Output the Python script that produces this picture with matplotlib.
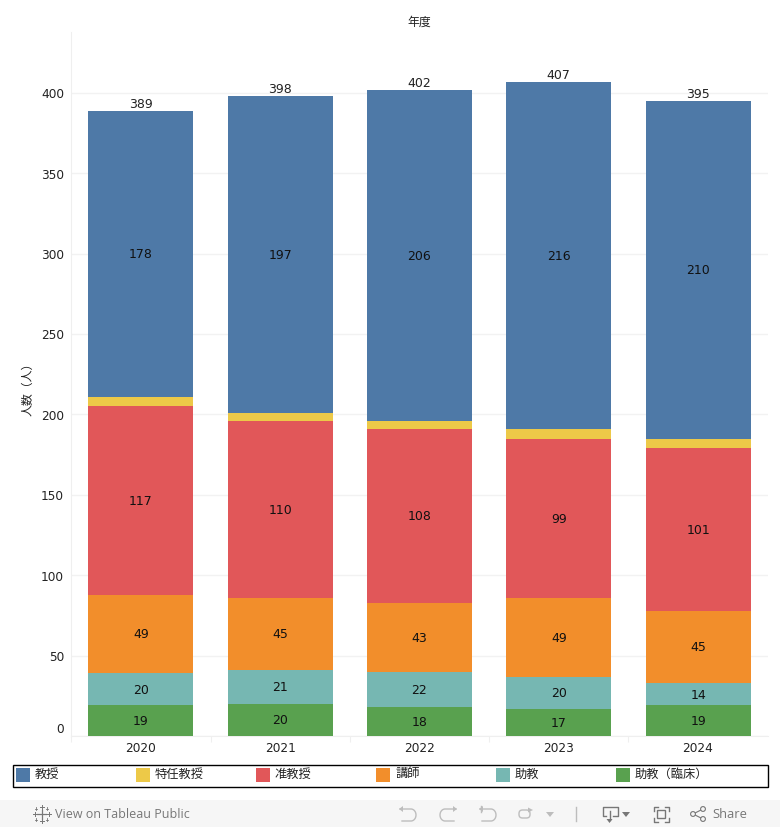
import numpy as np
import matplotlib
matplotlib.use('Agg')
import matplotlib.pyplot as plt
from matplotlib.patches import Rectangle, Circle, Polygon, FancyBboxPatch

plt.rcParams['font.family'] = ['DejaVu Sans', 'Noto Sans CJK JP']

years = ['2020', '2021', '2022', '2023', '2024']
rinsho = [19, 20, 18, 17, 19]
jokyo = [20, 21, 22, 20, 14]
koshi = [49, 45, 43, 49, 45]
junkyoju = [117, 110, 108, 99, 101]
tokunin = [6, 5, 5, 6, 6]
kyoju = [178, 197, 206, 216, 210]
totals = [389, 398, 402, 407, 395]
yticks = [0, 50, 100, 150, 200, 250, 300, 350, 400]

# stacked from the bottom up
series = [rinsho, jokyo, koshi, junkyoju, tokunin, kyoju]
colors = ['#59a14f', '#76b7b2', '#f28e2b', '#e15759', '#edc948', '#4e79a7']
show_label = [True, True, True, True, False, True]

legend_names = ['教授', '特任教授', '准教授', '講師', '助教', '助教（臨床）']
legend_colors = ['#4e79a7', '#edc948', '#e15759', '#f28e2b', '#76b7b2', '#59a14f']

W, H = 780, 827
fig = plt.figure(figsize=(W / 100, H / 100), dpi=100)

# plot area in pixels: x 71.2-767.7, y 32-736
ax = fig.add_axes([71.2 / W, 1 - 736 / H, 696.5 / W, 704 / H])
ax.set_xlim(-0.5, 4.5)
ax.set_ylim(0, 437.9)

bottom = [0] * 5
for vals, col, show in zip(series, colors, show_label):
    ax.bar(range(5), vals, width=0.754, bottom=bottom, color=col, zorder=3)
    if show:
        for i, v in enumerate(vals):
            ax.text(i, bottom[i] + v / 2 - 0.6, str(v), ha='center', va='center',
                    fontsize=9, color='#111111', zorder=4)
    bottom = [b + v for b, v in zip(bottom, vals)]

for i, t in enumerate(totals):
    ax.text(i, t - 0.2, str(t), ha='center', va='bottom', fontsize=9, color='#222222', zorder=4)

for s in ['top', 'right']:
    ax.spines[s].set_visible(False)
for s in ['left', 'bottom']:
    ax.spines[s].set_color('#efefef')
ax.set_yticks(yticks)
ax.set_yticklabels([])
ax.tick_params(axis='y', length=0)
ax.set_xticks([-0.5, 0.5, 1.5, 2.5, 3.5])
ax.set_xticklabels([])
ax.tick_params(axis='x', length=4, color='#efefef')
ax.grid(axis='y', color='#f2f2f2', linewidth=1, zorder=0)

# overlay in pixel coordinates for the labels, legend and toolbar
ov = fig.add_axes([0, 0, 1, 1], zorder=5)
ov.set_xlim(0, W)
ov.set_ylim(H, 0)
ov.axis('off')
ov.patch.set_alpha(0)

# tick labels; the 0 is pushed up inside the axis like in the original
for t in yticks:
    py = 737.8 - t * 1.6075
    if t == 0:
        py = 729.5
    ov.text(64, py, str(t), ha='right', va='center', fontsize=8.7, color='#222222')
for i, y in enumerate(years):
    ov.text(71.2 + 139.3 * (i + 0.5), 749, y, ha='center', va='center', fontsize=8.7, color='#222222')

ov.text(419, 22, '年度', ha='center', va='center', fontsize=8.6, color='#222222')
ov.text(28, 386, '人数（人）', ha='center', va='center', rotation=90, fontsize=8.6, color='#222222')

# legend
ov.add_patch(Rectangle((12.5, 765), 755, 22, fill=False, edgecolor='black', linewidth=1))
for i, (name, col) in enumerate(zip(legend_names, legend_colors)):
    x0 = 16 + i * 120
    ov.add_patch(Rectangle((x0, 768), 14, 14, facecolor=col, edgecolor='none'))
    ov.text(x0 + 19, 774, name, ha='left', va='center', fontsize=8.8, color='#222222')

# toolbar
ov.add_patch(Rectangle((0, 800), W, 27, facecolor='#f6f6f6', edgecolor='none'))
grey = '#777777'
light = '#bdbdbd'
ov.text(55, 814, 'View on Tableau Public', ha='left', va='center', fontsize=9,
        color=grey, family='Open Sans')
ov.text(712, 814, 'Share', ha='left', va='center', fontsize=9.3,
        color=grey, family='Open Sans')


def cross(cx, cy, r, lw):
    ov.plot([cx - r, cx + r], [cy, cy], color=grey, lw=lw)
    ov.plot([cx, cx], [cy - r, cy + r], color=grey, lw=lw)


# tableau mark
cross(41.5, 814, 4.5, 0.9)
for cx, cy in [(41.5, 807), (41.5, 821), (34.5, 814), (48.5, 814)]:
    cross(cx, cy, 2, 0.7)
for cx, cy in [(36, 808.5), (47, 808.5), (36, 819.5), (47, 819.5)]:
    cross(cx, cy, 1.3, 0.6)


def turn(x0, d):
    # line with a half circle on the end, d = -1 points left, 1 points right
    t = np.linspace(-np.pi / 2, np.pi / 2, 20)
    xs = x0 - d * (3 + 5 * np.cos(t))
    ys = 815 + 6 * np.sin(t)
    ov.plot(np.r_[x0 + d * 8, xs, x0 + d * 6], np.r_[809, ys, 821], color=light, lw=1)
    tip = x0 + d * 8
    ov.add_patch(Polygon([[tip + d * 1, 809], [tip - d * 3, 806], [tip - d * 3, 812]],
                         facecolor=light, edgecolor='none'))


# undo, redo, revert
turn(408, -1)
turn(448, 1)
turn(488, -1)
ov.plot([480.5, 480.5], [805.5, 812], color=light, lw=1)

# refresh
ov.add_patch(FancyBboxPatch((519, 810), 11, 8, boxstyle='round,pad=0,rounding_size=3.5',
                            fill=False, edgecolor=light, lw=1))
ov.add_patch(Polygon([[533, 810], [528, 807.5], [528, 812.5]], facecolor=light, edgecolor='none'))
ov.add_patch(Polygon([[546, 812], [554, 812], [550, 817]], facecolor=light, edgecolor='none'))
ov.plot([575.5, 575.5], [807, 821], color=light, lw=1)

# download
ov.plot([606, 602.5, 602.5, 617.5, 617.5, 613], [816, 816, 807, 807, 816, 816], color=grey, lw=1)
ov.plot([609.5, 609.5], [811, 820], color=grey, lw=1)
ov.add_patch(Polygon([[606.5, 819], [612.5, 819], [609.5, 823]], facecolor=grey, edgecolor='none'))
ov.add_patch(Polygon([[622, 812], [630, 812], [626, 817]], facecolor=grey, edgecolor='none'))

# fullscreen
ov.add_patch(Rectangle((657, 810), 8, 8, fill=False, edgecolor=grey, lw=1))
for x, y, dx, dy in [(653.5, 806.5, 1, 1), (668.5, 806.5, -1, 1), (653.5, 821.5, 1, -1), (668.5, 821.5, -1, -1)]:
    ov.plot([x + dx * 4, x, x], [y, y, y + dy * 4], color=grey, lw=1)

# share
ov.plot([703, 693, 703], [809, 814, 819], color=grey, lw=0.8)
for cx, cy in [(703, 809), (693, 814), (703, 819)]:
    ov.add_patch(Circle((cx, cy), 2.4, facecolor='#f6f6f6', edgecolor=grey, lw=0.8, zorder=3))

fig.savefig('out.png', dpi=100)
